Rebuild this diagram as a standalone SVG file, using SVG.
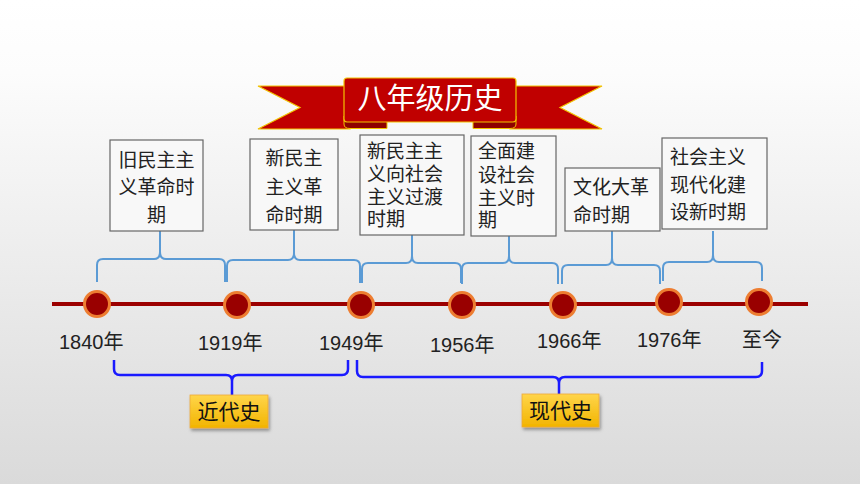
<svg xmlns="http://www.w3.org/2000/svg" width="860" height="484" viewBox="0 0 860 484">
<defs>
<linearGradient id="bg" x1="0" y1="0" x2="0" y2="1">
<stop offset="0" stop-color="#ffffff"/>
<stop offset="0.15" stop-color="#fcfcfc"/>
<stop offset="1" stop-color="#dadada"/>
</linearGradient>
<linearGradient id="gold" x1="0" y1="0" x2="0" y2="1">
<stop offset="0" stop-color="#ffd54a"/>
<stop offset="1" stop-color="#f2b400"/>
</linearGradient>
<filter id="sh" x="-20%" y="-20%" width="150%" height="160%">
<feDropShadow dx="1.5" dy="2.5" stdDeviation="1.5" flood-color="#000" flood-opacity="0.35"/>
</filter>
<style>
text{font-family:"Liberation Sans","Noto Sans CJK SC",sans-serif;}
.box{fill:#f8f8f8;stroke:#666;stroke-width:1.2;}
.bt{font-size:19px;fill:#222;}
.yr{font-size:20px;fill:#222;}
.br1{fill:none;stroke:#5b9bd5;stroke-width:2;}
.br2{fill:none;stroke:#1a1aff;stroke-width:2.5;}
.dot{fill:#990000;stroke:#ed7d31;stroke-width:3;}
.ybox{fill:url(#gold);stroke:#eda93a;stroke-width:0.8;filter:url(#sh);}
.yt{font-size:21px;fill:#111;text-anchor:middle;}
.rib{fill:#c00000;stroke:#f2c200;stroke-width:1.2;}
.fold{fill:#8e0000;stroke:#f2c200;stroke-width:1;}
</style>
</defs>
<rect x="0" y="0" width="860" height="484" fill="url(#bg)"/>

<g id="banner">
<polygon class="rib" points="258,86 350,86 350,129 258,129 300,107.5"/>
<polygon class="rib" points="602,86 510,86 510,129 602,129 560,107.5"/>
<path class="fold" d="M344,116 L344,124 Q344,128.5 350,128.5 L387,128.5 L387,121 Z"/>
<path class="fold" d="M516,116 L516,124 Q516,128.5 510,128.5 L473,128.5 L473,121 Z"/>
<rect class="rib" x="344" y="78" width="172" height="44" rx="3"/>
<text x="430" y="109" font-size="29" fill="#ffffff" text-anchor="middle">八年级历史</text>
</g>

<g id="timeline">
<line x1="52" y1="304" x2="808" y2="304" stroke="#9c0000" stroke-width="4"/>
</g>

<g id="connectors">
<path class="br1" d="M97,282 L97,265 Q97,259 103,259 L154,259 Q160,259 160,252 L160,231 M160,252 Q160,259 166,259 L219,259 Q225,259 225,265 L225,282"/>
<path class="br1" d="M227,282 L227,266 Q227,260 233,260 L288,260 Q294,260 294,253 L294,230 M294,253 Q294,260 300,260 L354,260 Q360,260 360,266 L360,283"/>
<path class="br1" d="M362,283 L362,269 Q362,263 368,263 L406,263 Q412,263 412,256 L412,235 M412,256 Q412,263 418,263 L455,263 Q461,263 461,269 L461,283"/>
<path class="br1" d="M462,284 L462,269 Q462,263 468,263 L503,263 Q509,263 509,256 L509,236 M509,256 Q509,263 515,263 L552,263 Q558,263 558,269 L558,284"/>
<path class="br1" d="M562,284 L562,271 Q562,265 568,265 L606,265 Q612,265 612,258 L612,231 M612,258 Q612,265 618,265 L654,265 Q660,265 660,271 L660,284"/>
<path class="br1" d="M663,281 L663,268 Q663,262 669,262 L707,262 Q713,262 713,255 L713,231 M713,255 Q713,262 719,262 L756,262 Q762,262 762,268 L762,281"/>
<path class="br2" d="M114,360 L114,369 Q114,375 120,375 L226,375 Q232,375 232,381 L232,395 M232,381 Q232,375 238,375 L342,375 Q348,375 348,369 L348,360"/>
<path class="br2" d="M357,360 L357,371 Q357,377 363,377 L553,377 Q559,377 559,383 L559,394 M559,383 Q559,377 565,377 L756,377 Q762,377 762,371 L762,362"/>
</g>

<g id="dots">
<circle class="dot" cx="97" cy="304" r="12.5"/>
<circle class="dot" cx="237" cy="305" r="12.5"/>
<circle class="dot" cx="361" cy="305" r="12.5"/>
<circle class="dot" cx="462" cy="305" r="12.5"/>
<circle class="dot" cx="563" cy="305" r="12.5"/>
<circle class="dot" cx="669" cy="302" r="12.5"/>
<circle class="dot" cx="759" cy="302" r="12.5"/>
</g>

<g id="years">
<text class="yr" x="59" y="349">1840年</text>
<text class="yr" x="198" y="350">1919年</text>
<text class="yr" x="319" y="350">1949年</text>
<text class="yr" x="430" y="352">1956年</text>
<text class="yr" x="537" y="348">1966年</text>
<text class="yr" x="637" y="347">1976年</text>
<text class="yr" x="742" y="347">至今</text>
</g>

<g id="box1">
<rect class="box" x="110" y="140" width="93" height="91"/>
<text class="bt" x="156.5" y="167" text-anchor="middle">旧民主主</text>
<text class="bt" x="156.5" y="194" text-anchor="middle">义革命时</text>
<text class="bt" x="156.5" y="222" text-anchor="middle">期</text>
</g>
<g id="box2">
<rect class="box" x="250" y="139" width="88" height="91"/>
<text class="bt" x="294" y="165" text-anchor="middle">新民主</text>
<text class="bt" x="294" y="194" text-anchor="middle">主义革</text>
<text class="bt" x="294" y="222" text-anchor="middle">命时期</text>
</g>
<g id="box3">
<rect class="box" x="360" y="135" width="104" height="100"/>
<text class="bt" x="367" y="158">新民主主</text>
<text class="bt" x="367" y="181">义向社会</text>
<text class="bt" x="367" y="204">主义过渡</text>
<text class="bt" x="367" y="226">时期</text>
</g>
<g id="box4">
<rect class="box" x="471" y="136" width="85" height="100"/>
<text class="bt" x="478" y="158">全面建</text>
<text class="bt" x="478" y="182">设社会</text>
<text class="bt" x="478" y="205">主义时</text>
<text class="bt" x="478" y="227">期</text>
</g>
<g id="box5">
<rect class="box" x="565" y="168" width="95" height="63"/>
<text class="bt" x="573" y="194">文化大革</text>
<text class="bt" x="573" y="222">命时期</text>
</g>
<g id="box6">
<rect class="box" x="662" y="138" width="105" height="91"/>
<text class="bt" x="670" y="164">社会主义</text>
<text class="bt" x="670" y="192">现代化建</text>
<text class="bt" x="670" y="219">设新时期</text>
</g>

<g id="modern-early">
<rect class="ybox" x="190" y="395" width="78" height="33"/>
<text class="yt" x="229" y="419">近代史</text>
</g>
<g id="modern">
<rect class="ybox" x="522" y="394" width="77" height="33"/>
<text class="yt" x="560.5" y="418">现代史</text>
</g>
</svg>
